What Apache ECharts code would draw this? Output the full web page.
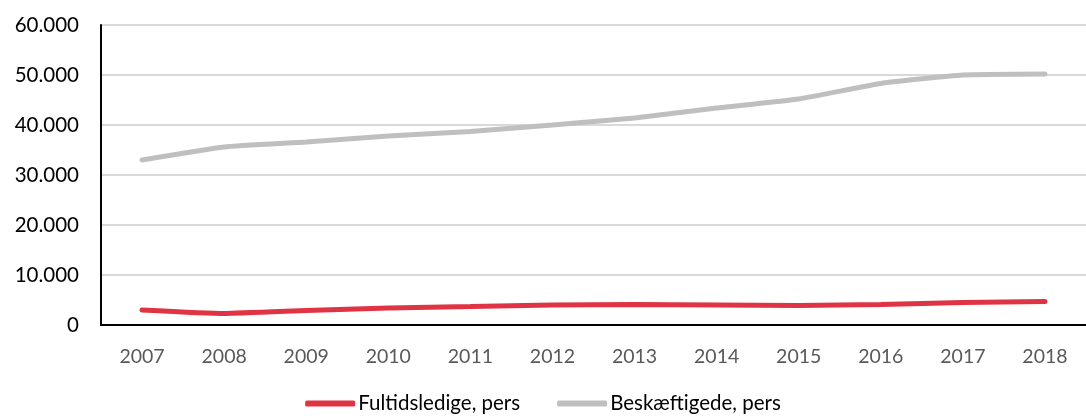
<!DOCTYPE html>
<html>
<head>
<meta charset="utf-8">
<script src="https://cdn.jsdelivr.net/npm/echarts@6/dist/echarts.min.js"></script>
<style>
  html, body { margin: 0; padding: 0; background: #fff; }
  #chart { width: 1086px; height: 420px; }
</style>
</head>
<body>
<div id="chart"></div>
<script>
const years = ['2007', '2008', '2009', '2010', '2011', '2012', '2013', '2014', '2015', '2016', '2017', '2018']
const fultidsledige = [3000, 2300, 2900, 3400, 3700, 4000, 4100, 4000, 3900, 4100, 4500, 4700]
const beskaeftigede = [33000, 35600, 36600, 37800, 38700, 40000, 41400, 43400, 45200, 48300, 50000, 50200]

const myChart = echarts.init(document.getElementById('chart'))

// tusindtalsseparator som punktum
const fmt = v => String(v).replace(/\B(?=(\d{3})+(?!\d))/g, '.')

const option = {
  animation: false,
  textStyle: { fontFamily: 'Lato, "Open Sans", sans-serif' },
  grid: { left: 101, right: -16, top: 25, bottom: 95 },
  legend: {
    bottom: 1,
    left: 'center',
    itemWidth: 50,
    itemHeight: 6,
    itemGap: 37,
    icon: 'roundRect',
    textStyle: { fontSize: 20.5, color: '#000', padding: [0, 0, 0, -2] },
    data: ['Fultidsledige, pers', 'Beskæftigede, pers']
  },
  xAxis: {
    type: 'category',
    data: years,
    boundaryGap: true,
    axisLine: { lineStyle: { color: '#000', width: 2 } },
    axisTick: { show: false },
    axisLabel: { color: '#595959', fontSize: 19.5, margin: 22 }
  },
  yAxis: {
    type: 'value',
    min: 0,
    max: 60000,
    interval: 10000,
    axisLine: { show: true, lineStyle: { color: '#000', width: 2 } },
    axisTick: { show: false },
    splitLine: { lineStyle: { color: '#D9D9D9', width: 2 } },
    axisLabel: { color: '#000', fontSize: 20.5, margin: 22, formatter: fmt }
  },
  series: [
    {
      name: 'Fultidsledige, pers',
      type: 'line',
      data: fultidsledige,
      showSymbol: false,
      smooth: 0.15,
      lineStyle: { color: '#E03444', width: 5, cap: 'round' },
      itemStyle: { color: '#E03444' }
    },
    {
      name: 'Beskæftigede, pers',
      type: 'line',
      data: beskaeftigede,
      showSymbol: false,
      smooth: 0.15,
      lineStyle: { color: '#BFBFBF', width: 5, cap: 'round' },
      itemStyle: { color: '#BFBFBF' }
    }
  ]
}
myChart.setOption(option)
</script>
</body>
</html>
